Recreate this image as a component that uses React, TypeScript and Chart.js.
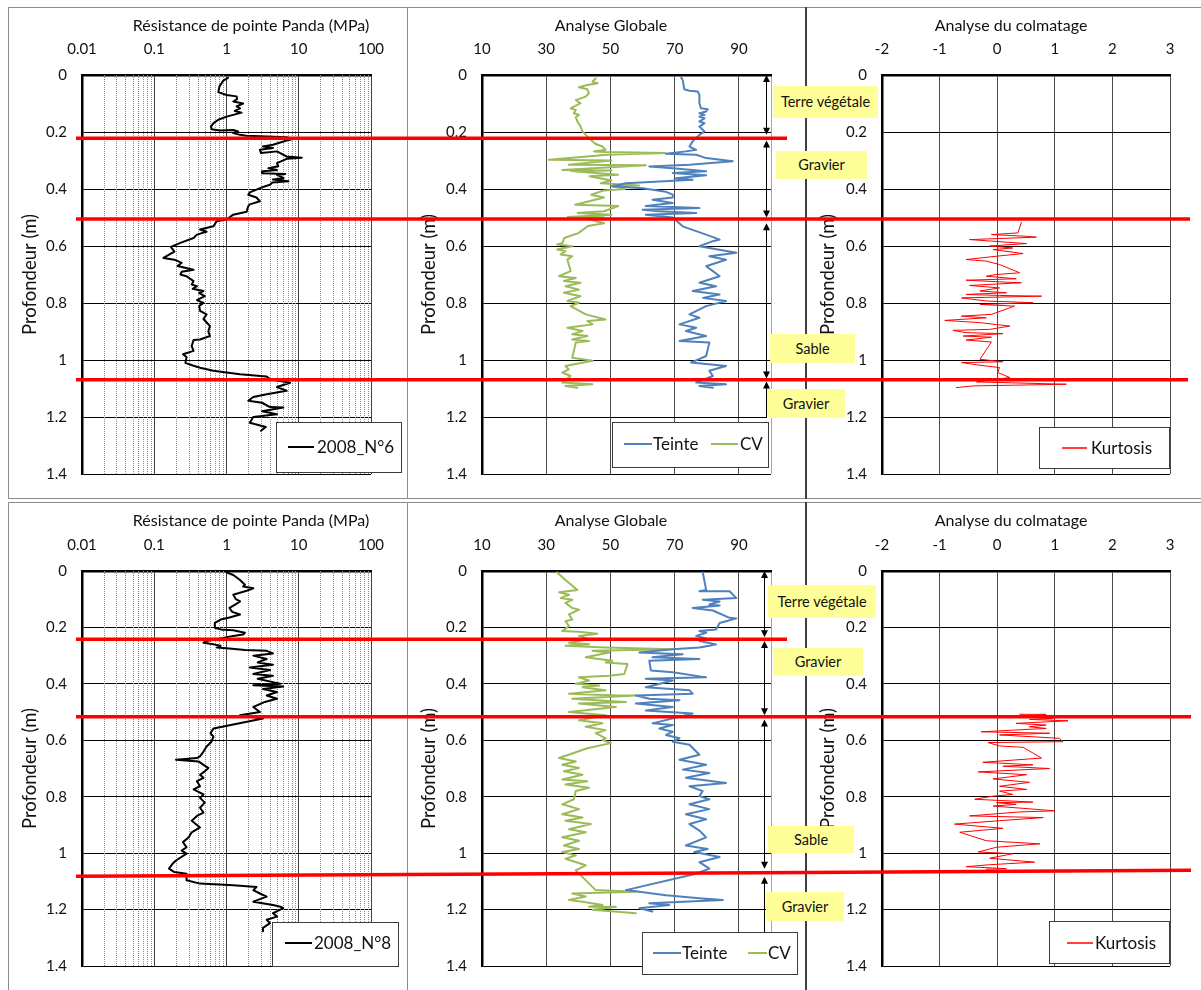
import React, { useEffect, useRef } from 'react';
import { Chart, registerables } from 'chart.js';

Chart.register(...registerables);

const FONT = 'Lato, "Open Sans", "DejaVu Sans", sans-serif';
const TEXT = '#111111';

// ---------------- axis ticks ----------------
const DEPTH_TICKS = [0, 0.2, 0.4, 0.6, 0.8, 1, 1.2, 1.4];
const DEPTH_LABELS = ['0', '0.2', '0.4', '0.6', '0.8', '1', '1.2', '1.4'];
const PANDA_TICKS = [0.01, 0.1, 1, 10, 100];
const PANDA_LABELS = ['0.01', '0.1', '1', '10', '100'];
const GLOBAL_TICKS = [10, 30, 50, 70, 90, 100];
const GLOBAL_LABELS = ['10', '30', '50', '70', '90', ''];
const KURT_TICKS = [-2, -1, 0, 1, 2, 3];
const KURT_LABELS = ['-2', '-1', '0', '1', '2', '3'];

const PANEL_TITLES = ['Résistance de pointe Panda (MPa)', 'Analyse Globale', 'Analyse du colmatage'];
const LAYER_NAMES = ['Terre végétale', 'Gravier', 'Sable', 'Gravier'];

// ---------------- row 1 : 2008_N°6 ----------------
const N6_DEPTH = [0.01, 0.02, 0.04, 0.06, 0.07, 0.075, 0.085, 0.093, 0.1, 0.11,
  0.117, 0.126, 0.132, 0.14, 0.146, 0.157, 0.169, 0.181, 0.19, 0.195,
  0.193, 0.198, 0.204, 0.21, 0.213, 0.216, 0.218, 0.225, 0.23, 0.245,
  0.251, 0.256, 0.262, 0.274, 0.268, 0.277, 0.286, 0.29, 0.294, 0.309,
  0.32, 0.327, 0.333, 0.338, 0.345, 0.347, 0.35, 0.362, 0.367, 0.373,
  0.377, 0.385, 0.393, 0.402, 0.412, 0.42, 0.43, 0.443, 0.454, 0.46,
  0.48, 0.49, 0.507, 0.513, 0.531, 0.542, 0.55, 0.553, 0.56, 0.572,
  0.589, 0.603, 0.62, 0.642, 0.648, 0.659, 0.67, 0.683, 0.69, 0.7,
  0.706, 0.723, 0.735, 0.741, 0.75, 0.758, 0.765, 0.776, 0.79, 0.8,
  0.81, 0.828, 0.84, 0.856, 0.881, 0.9, 0.916, 0.928, 0.93, 0.951,
  0.968, 0.98, 0.99, 1.01, 1.02, 1.027, 1.038, 1.044, 1.05, 1.058,
  1.068, 1.08, 1.095, 1.108, 1.12, 1.13, 1.143, 1.15, 1.165, 1.167,
  1.18, 1.19, 1.2, 1.22, 1.235, 1.248];
const N6_MPA = [1.05, 0.9, 0.8, 0.77, 1.0, 1.38, 1.4, 1.24, 1.7, 1.38,
  1.54, 1.3, 1.62, 1.24, 1.0, 0.77, 0.66, 0.61, 0.62, 0.81,
  1.24, 1.45, 1.24, 1.54, 1.9, 3.6, 6.8, 8.4, 6.8, 4.4,
  3.2, 4.4, 2.9, 3.0, 5.0, 5.8, 6.8, 11, 6.8, 5.0,
  5.2, 3.8, 5.0, 3.2, 3.1, 6.5, 5.0, 6.2, 4.4, 7.2,
  4.3, 4.0, 3.2, 2.6, 2.1, 2.0, 2.6, 2.9, 2.1, 2.0,
  1.9, 1.24, 1.0, 0.73, 0.66, 0.43, 0.53, 0.48, 0.39, 0.35,
  0.23, 0.17, 0.19, 0.134, 0.19, 0.24, 0.21, 0.35, 0.24, 0.23,
  0.28, 0.35, 0.33, 0.39, 0.34, 0.48, 0.42, 0.5, 0.39, 0.48,
  0.42, 0.43, 0.53, 0.48, 0.59, 0.56, 0.59, 0.43, 0.35, 0.33,
  0.35, 0.25, 0.28, 0.27, 0.35, 0.43, 0.66, 1.0, 1.54, 3.6,
  4.0, 7.6, 5.0, 6.8, 3.6, 2.35, 2.0, 3.1, 4.0, 6.1,
  3.1, 5.0, 2.35, 2.1, 3.5, 3.0];

const R1_CV_DEPTH = [0.012, 0.023, 0.029, 0.035, 0.043, 0.05, 0.064, 0.076, 0.088, 0.099,
  0.117, 0.123, 0.134, 0.14, 0.148, 0.163, 0.181, 0.198, 0.21, 0.228,
  0.242, 0.251, 0.262, 0.268, 0.27, 0.274, 0.28, 0.2975, 0.3, 0.315,
  0.317, 0.333, 0.335, 0.337, 0.35, 0.355, 0.37, 0.38, 0.388, 0.39,
  0.4, 0.405, 0.42, 0.43, 0.455, 0.46, 0.478, 0.484, 0.49, 0.498,
  0.5, 0.508, 0.52, 0.53, 0.555, 0.572, 0.59, 0.595, 0.601, 0.6125,
  0.618, 0.63, 0.636, 0.648, 0.688, 0.706, 0.712, 0.723, 0.729, 0.741,
  0.753, 0.764, 0.776, 0.793, 0.799, 0.811, 0.84, 0.858, 0.863, 0.875,
  0.887, 0.898, 0.91, 0.916, 0.928, 0.933, 0.939, 0.992, 1.003, 1.021,
  1.033, 1.044, 1.056, 1.079, 1.085, 1.091, 1.097];
const R1_CV = [45.4, 44.4, 46, 42.8, 40.2, 42.8, 43.3, 42.3, 39.2, 40.7,
  37.6, 39.2, 38.6, 40.2, 39.2, 39.7, 40.7, 41.3, 42.3, 43.9,
  45.4, 47.5, 48.5, 44.9, 48.5, 67, 49, 30.8, 50.3, 37,
  61, 35, 50.3, 37.6, 52.4, 43.5, 50.3, 47, 58.9, 50.3,
  54.4, 48, 44, 48, 39, 52.4, 48, 39.8, 50.3, 36.7,
  48, 44, 48, 43, 40, 35.6, 35, 33.4, 38.1, 33.4,
  36, 34.5, 38.1, 36.6, 37.6, 34, 39.2, 35.5, 40.7, 36,
  40.2, 35.5, 40.7, 36.6, 40.2, 37.6, 42.3, 48.5, 42.8, 44.4,
  36.6, 41.3, 38.1, 42.8, 38.1, 43.3, 39.2, 38.1, 44.4, 36,
  37, 35, 37.6, 35, 44.4, 36, 39.7];

const R1_TEINTE_DEPTH = [0.008, 0.018, 0.05, 0.055, 0.058, 0.07, 0.099, 0.117, 0.12, 0.128,
  0.134, 0.14, 0.146, 0.152, 0.163, 0.169, 0.181, 0.198, 0.21, 0.233,
  0.251, 0.2625, 0.268, 0.2765, 0.28, 0.2915, 0.303, 0.315, 0.321, 0.327,
  0.338, 0.344, 0.352, 0.362, 0.3675, 0.38, 0.39, 0.397, 0.41, 0.42,
  0.43, 0.4375, 0.449, 0.46, 0.467, 0.4725, 0.478, 0.484, 0.49, 0.5,
  0.531, 0.548, 0.56, 0.5775, 0.583, 0.601, 0.624, 0.636, 0.648, 0.671,
  0.688, 0.706, 0.729, 0.741, 0.758, 0.77, 0.782, 0.793, 0.811, 0.84,
  0.852, 0.875, 0.887, 0.898, 0.916, 0.933, 0.939, 0.986, 1.009, 1.021,
  1.038, 1.056, 1.079, 1.085, 1.091, 1.097];
const R1_TEINTE = [72, 72.5, 73, 74.6, 77.2, 77.7, 77.7, 78.2, 80.3, 79.8,
  77.7, 79.3, 77.7, 79.3, 77.7, 79.3, 77.7, 79.3, 77.7, 75.6,
  74.6, 76.7, 73.5, 67.3, 76.7, 79.8, 88.1, 74.6, 62.1, 69.4,
  79.8, 69.4, 79.8, 70.4, 75.6, 54.8, 50.6, 60, 67.3, 69.4,
  69.4, 63.1, 69.4, 61, 77.7, 60, 65, 76.7, 61, 69.4,
  72.5, 76.7, 79.8, 84, 81.9, 77.7, 89.2, 80.8, 86, 79.8,
  81.9, 84, 77.7, 82.9, 75.6, 84, 78.8, 86, 79.8, 74.6,
  77.7, 71.5, 76.7, 73.5, 79.8, 71.5, 80.8, 79.8, 75.1, 86,
  80.8, 81.9, 76.7, 86, 77.7, 81.9];

const R1_KURT_DEPTH = [0.517, 0.554, 0.56, 0.566, 0.569, 0.5775, 0.5915, 0.6, 0.607, 0.6125,
  0.6265, 0.636, 0.6475, 0.653, 0.665, 0.694, 0.7, 0.706, 0.715, 0.72,
  0.727, 0.729, 0.7385, 0.747, 0.758, 0.764, 0.77, 0.7735, 0.776, 0.782,
  0.793, 0.799, 0.805, 0.811, 0.84, 0.846, 0.852, 0.861, 0.869, 0.881,
  0.8925, 0.896, 0.904, 0.9075, 0.916, 0.92, 0.93, 0.937, 0.9975, 1.006,
  1.009, 1.0185, 1.0265, 1.044, 1.0615, 1.077, 1.085, 1.091, 1.097];
const R1_KURT = [0.42, 0.36, -0.1, 0.51, 0.68, -0.48, 0.51, -0.13, 0.27, -0.07,
  0.45, -0.02, -0.54, -0.19, 0.04, 0.39, -0.02, -0.19, 0.33, -0.54,
  0.16, 0.42, -0.48, 0.04, -0.3, 0.16, -0.54, 0.04, 0.77, -0.62,
  -0.19, 0.62, -0.3, 0.3, -0.1, -0.62, -0.19, -0.91, -0.3, 0.22,
  -0.13, -0.77, -0.54, 0.1, -0.59, -0.1, -0.54, -0.1, -0.3, 0.1,
  -0.62, -0.3, 0.04, 0.01, 0.22, -0.36, 1.2, -0.42, -0.71];

// ---------------- row 2 : 2008_N°8 ----------------
const N8_DEPTH = [0.005, 0.014, 0.032, 0.049, 0.055, 0.061, 0.07, 0.084, 0.1, 0.108,
  0.12, 0.131, 0.145, 0.154, 0.165, 0.172, 0.184, 0.201, 0.207, 0.21,
  0.219, 0.225, 0.23, 0.239, 0.244, 0.248, 0.254, 0.26, 0.265, 0.271,
  0.274, 0.28, 0.283, 0.292, 0.3, 0.312, 0.324, 0.332, 0.342, 0.351,
  0.365, 0.371, 0.382, 0.4, 0.405, 0.409, 0.418, 0.429, 0.441, 0.453,
  0.464, 0.482, 0.5, 0.511, 0.523, 0.558, 0.575, 0.587, 0.605, 0.622,
  0.64, 0.657, 0.663, 0.669, 0.675, 0.687, 0.698, 0.71, 0.722, 0.733,
  0.745, 0.763, 0.774, 0.792, 0.804, 0.821, 0.839, 0.856, 0.868, 0.885,
  0.909, 0.926, 0.944, 0.961, 0.979, 0.991, 1.002, 1.026, 1.037, 1.055,
  1.067, 1.073, 1.096, 1.108, 1.114, 1.12, 1.131, 1.143, 1.154, 1.172,
  1.184, 1.19, 1.195, 1.213, 1.225, 1.236, 1.248, 1.265, 1.277];
const N8_MPA = [1.0, 1.24, 1.54, 1.8, 1.7, 2.35, 1.9, 1.24, 1.35, 1.54,
  1.3, 1.1, 1.2, 1.54, 1.1, 0.83, 0.69, 0.69, 0.83, 1.24,
  1.8, 1.7, 1.24, 0.83, 0.66, 0.53, 0.48, 0.66, 0.83, 0.74,
  1.0, 1.8, 3.6, 4.4, 2.35, 3.6, 2.7, 4.4, 2.1, 4.0,
  2.35, 4.4, 2.7, 5.6, 2.35, 6.1, 3.2, 5.0, 3.6, 5.0,
  3.4, 2.35, 2.9, 1.54, 3.2, 0.66, 0.6, 0.66, 0.62, 0.53,
  0.48, 0.43, 0.39, 0.2, 0.41, 0.48, 0.56, 0.5, 0.43, 0.48,
  0.39, 0.43, 0.35, 0.48, 0.43, 0.5, 0.43, 0.48, 0.39, 0.33,
  0.43, 0.33, 0.3, 0.25, 0.28, 0.24, 0.28, 0.2, 0.18, 0.16,
  0.19, 0.28, 0.28, 0.43, 1.24, 2.6, 2.35, 2.9, 3.6, 2.35,
  4.4, 5.6, 6.1, 4.4, 5.0, 3.6, 4.0, 3.2, 3.2];

const R2_CV_DEPTH = [0.005, 0.032, 0.067, 0.075, 0.084, 0.096, 0.102, 0.113, 0.131, 0.137,
  0.154, 0.172, 0.178, 0.195, 0.213, 0.215, 0.222, 0.23, 0.242, 0.254,
  0.26, 0.265, 0.271, 0.277, 0.283, 0.289, 0.306, 0.318, 0.324, 0.33,
  0.365, 0.371, 0.377, 0.388, 0.4, 0.406, 0.412, 0.423, 0.435, 0.441,
  0.441, 0.453, 0.464, 0.47, 0.482, 0.5, 0.511, 0.529, 0.54, 0.552,
  0.564, 0.575, 0.593, 0.599, 0.61, 0.628, 0.663, 0.675, 0.687, 0.698,
  0.71, 0.722, 0.739, 0.745, 0.757, 0.768, 0.78, 0.809, 0.827, 0.844,
  0.862, 0.874, 0.885, 0.897, 0.915, 0.926, 0.944, 0.956, 0.973, 0.985,
  0.996, 1.008, 1.02, 1.043, 1.061, 1.131, 1.137, 1.143, 1.154, 1.166,
  1.172, 1.184, 1.19, 1.19, 1.201, 1.213];
const R2_CV = [33.4, 36, 39.7, 34, 37.1, 34.5, 38.1, 36, 38.1, 40.2,
  37.1, 38.1, 36, 37.1, 35, 40.2, 45.9, 40.2, 43.3, 37.1,
  43.3, 36, 48.5, 69.4, 44.4, 49.6, 42.3, 50.6, 48.5, 55.3,
  54.3, 49.6, 40.2, 43.3, 39.2, 46.5, 41.3, 48.5, 37.1, 52.7,
  57.9, 38.1, 54.8, 40.2, 51.7, 37.1, 48.5, 40.2, 47.5, 42.3,
  48.5, 45.4, 48.5, 47.5, 50.1, 42.8, 34, 39.2, 35, 40.2,
  35.5, 41.3, 35, 42.8, 36, 43.3, 39.2, 38.6, 35, 40.2,
  35, 41.3, 36, 43.9, 37.1, 42.3, 35, 40.2, 35.5, 40.2,
  35, 39.2, 36, 42.3, 39.2, 45.4, 57.9, 38.1, 42.3, 37.1,
  41.3, 47.5, 43.3, 51.7, 44.4, 57.9];

const R2_TEINTE_DEPTH = [0.005, 0.067, 0.072, 0.072, 0.096, 0.102, 0.108, 0.119, 0.122, 0.131,
  0.14, 0.166, 0.168, 0.178, 0.184, 0.207, 0.213, 0.219, 0.23, 0.239,
  0.248, 0.26, 0.265, 0.271, 0.277, 0.289, 0.295, 0.306, 0.312, 0.318,
  0.353, 0.359, 0.377, 0.382, 0.388, 0.412, 0.423, 0.435, 0.441, 0.453,
  0.458, 0.47, 0.482, 0.494, 0.505, 0.54, 0.546, 0.558, 0.57, 0.581,
  0.593, 0.605, 0.616, 0.651, 0.669, 0.687, 0.704, 0.716, 0.733, 0.751,
  0.763, 0.78, 0.798, 0.809, 0.827, 0.844, 0.862, 0.88, 0.897, 0.92,
  0.944, 0.973, 0.985, 0.996, 1.014, 1.032, 1.055, 1.073, 1.131, 1.149,
  1.16, 1.166, 1.178, 1.184, 1.195, 1.207];
const R2_TEINTE = [78.75, 79.8, 77.7, 87.1, 89.2, 78.75, 84, 80.8, 84, 75.6,
  81.9, 87.1, 89.2, 86, 84, 82.9, 77.7, 79.8, 76.7, 79.8,
  77.7, 82.9, 80.8, 77.7, 69.4, 59, 72.5, 63.1, 77.7, 62.1,
  62.6, 69.4, 79.8, 61, 69.4, 61, 74.6, 75.6, 57.9, 62.1,
  71.5, 57.9, 69.4, 61, 75.6, 63.1, 69.4, 65.2, 69.4, 67.3,
  71.5, 69.4, 74.6, 77.7, 71.5, 79.8, 72.5, 80.8, 73.5, 86,
  74.6, 78.75, 77.7, 80.8, 74.6, 80.8, 73.5, 79.8, 74.6, 77.7,
  79.8, 73.5, 80.3, 76.1, 84, 77.7, 80.8, 76.7, 54.8, 67.3,
  77.7, 85, 62.1, 68.3, 59, 63.1];

const R2_KURT_DEPTH = [0.508, 0.508, 0.517, 0.523, 0.526, 0.531, 0.54, 0.546, 0.552, 0.558,
  0.57, 0.575, 0.581, 0.593, 0.605, 0.608, 0.62, 0.625, 0.663, 0.678,
  0.681, 0.687, 0.692, 0.7, 0.712, 0.722, 0.737, 0.749, 0.763, 0.774,
  0.78, 0.792, 0.798, 0.809, 0.819, 0.821, 0.827, 0.833, 0.85, 0.854,
  0.868, 0.874, 0.885, 0.897, 0.912, 0.926, 0.956, 0.967, 0.979, 0.996,
  1.002, 1.018, 1.032, 1.041, 1.048, 1.055, 1.057];
const R2_KURT = [0.39, 0.85, 0.36, 0.97, 0.56, 1.23, 0.33, 0.85, 0.56, 0.85,
  -0.28, 0.91, 0.04, 1.08, 1.14, -0.16, 0.04, 0.45, 0.77, -0.25,
  0.04, 0.62, 0.1, 0.91, -0.33, 0.51, -0.07, 0.56, 0.04, 0.51,
  0.04, 0.27, -0.07, -0.39, 0.62, -0.01, 0.33, -0.07, 1.0, 0.39,
  -0.48, 0.8, 0.04, -0.74, 0.1, -0.65, -0.19, 0.74, -0.01, -0.33,
  0.27, -0.13, 0.65, -0.13, -0.54, 0.16, -0.19];

// layer boundaries (red lines), depth at left end / right end
const R1_BOUND_START = [0.222, 0.505, 1.069];
const R1_BOUND_END = [0.222, 0.505, 1.069];
const R2_BOUND_START = [0.242, 0.517, 1.082];
const R2_BOUND_END = [0.242, 0.517, 1.061];

// layer thickness arrows (depth from / to)
const R1_ARROW_FROM = [0, 0.23, 0.52, 1.075];
const R1_ARROW_TO = [0.21, 0.5, 1.065, 1.2];
const R2_ARROW_FROM = [0, 0.248, 0.526, 1.084];
const R2_ARROW_TO = [0.235, 0.511, 1.055, 1.3];
const ARROW_HEAD_END = [true, true, true, false];

// ---------------- layout (page px) ----------------
const COLS = [
  { left: 8, width: 399, l: 82, r: 371 },
  { left: 407, width: 399, l: 482, r: 771 },
  { left: 806, width: 395, l: 882, r: 1170 },
];
const ROWS = [
  { top: 7, height: 491, t: 75, b: 475, titleY: 25 },
  { top: 502, height: 488, t: 571, b: 970, titleY: 520 },
];
const TITLE_CX = [251, 611, 1011];
const RED_X = [
  [[76, 787], [76, 1190], [76, 1188]],
  [[76, 787], [76, 1191], [76, 1191]],
];
const LABEL_RECTS = [
  [[773, 86, 105, 32], [776, 151, 91, 28], [770, 334, 85, 29], [767, 389, 78, 29]],
  [[768, 585, 108, 33], [773, 648, 90, 28], [768, 826, 86, 27], [766, 892, 78, 29]],
];
const LEGENDS = [
  [
    { box: [276, 422, 125, 50], ly: 447, items: [{ s0: 288, s1: 314, t: 317 }] },
    { box: [612, 422, 156, 45], ly: 444, items: [{ s0: 624, s1: 652, t: 653 }, { s0: 711, s1: 738, t: 740 }] },
    { box: [1039, 427, 130, 41], ly: 448, items: [{ s0: 1062, s1: 1087, t: 1091 }] },
  ],
  [
    { box: [272, 922, 126, 44], ly: 943, items: [{ s0: 285, s1: 312, t: 314 }] },
    { box: [642, 932, 155, 42], ly: 953, items: [{ s0: 653, s1: 681, t: 682 }, { s0: 748, s1: 767, t: 768 }] },
    { box: [1049, 921, 120, 42], ly: 943, items: [{ s0: 1067, s1: 1093, t: 1095 }] },
  ],
];

type Series = { label: string; depth: number[]; values: number[]; color: string; width: number };
type PanelCfg = {
  left: number; top: number; width: number; height: number;
  area: { l: number; t: number; r: number; b: number };
  xType: 'linear' | 'logarithmic'; xMin: number; xMax: number;
  xTicks: number[]; xLabels: string[]; gridColors: string[];
  series: Series[];
  minorLog?: boolean;
  redLines: { x0: number; x1: number; d0: number; d1: number }[];
  arrows?: { x: number; from: number[]; to: number[]; headEnd: boolean[] };
  legend: { box: number[]; ly: number; items: { s0: number; s1: number; t: number }[] };
};

function makeDecor(p: PanelCfg) {
  return {
    id: 'decor',
    beforeDatasetsDraw(chart: any) {
      if (!p.minorLog) return;
      const { ctx, chartArea: a } = chart;
      const xs = chart.scales.x;
      ctx.save();
      ctx.strokeStyle = '#8c8c8c';
      ctx.lineWidth = 1;
      ctx.setLineDash([1, 1]);
      for (const dec of p.xTicks.slice(0, -1)) {
        for (let m = 2; m <= 9; m++) {
          const px = Math.round(xs.getPixelForValue(dec * m)) + 0.5;
          ctx.beginPath();
          ctx.moveTo(px, a.top);
          ctx.lineTo(px, a.bottom);
          ctx.stroke();
        }
      }
      ctx.restore();
    },
    afterDraw(chart: any) {
      const { ctx } = chart;
      const xs = chart.scales.x;
      const ys = chart.scales.y;
      const ox = p.left;
      const oy = p.top;
      ctx.save();
      // arrows
      if (p.arrows) {
        const ar = p.arrows;
        const ax = Math.round(xs.getPixelForValue(ar.x)) + 0.5;
        ctx.strokeStyle = '#000';
        ctx.fillStyle = '#000';
        ctx.lineWidth = 1;
        const head = (x: number, y: number, dir: number) => {
          ctx.beginPath();
          ctx.moveTo(x, y);
          ctx.lineTo(x - 3.5, y + dir * 7);
          ctx.lineTo(x + 3.5, y + dir * 7);
          ctx.closePath();
          ctx.fill();
        };
        ar.from.forEach((d0, i) => {
          const y0 = ys.getPixelForValue(d0);
          const y1 = ys.getPixelForValue(ar.to[i]);
          ctx.beginPath();
          ctx.moveTo(ax, y0 + 2);
          ctx.lineTo(ax, y1 - (ar.headEnd[i] ? 2 : 0));
          ctx.stroke();
          head(ax, y0, 1);
          if (ar.headEnd[i]) head(ax, y1, -1);
        });
      }
      // legend
      const lg = p.legend;
      const [bx, by, bw, bh] = lg.box;
      ctx.fillStyle = '#fff';
      ctx.fillRect(bx - ox, by - oy, bw, bh);
      ctx.strokeStyle = '#3c3c3c';
      ctx.lineWidth = 1;
      ctx.strokeRect(Math.round(bx - ox) + 0.5, Math.round(by - oy) + 0.5, Math.round(bw), Math.round(bh));
      lg.items.forEach((it, i) => {
        const ds = chart.data.datasets[i];
        const ly = lg.ly - oy;
        ctx.strokeStyle = ds.borderColor;
        ctx.lineWidth = Math.max(ds.borderWidth, 1.5);
        ctx.beginPath();
        ctx.moveTo(it.s0 - ox, ly);
        ctx.lineTo(it.s1 - ox, ly);
        ctx.stroke();
        ctx.fillStyle = TEXT;
        ctx.font = `17px ${FONT}`;
        ctx.textAlign = 'left';
        ctx.textBaseline = 'middle';
        ctx.fillText(ds.label, it.t - ox, ly + 1);
      });
      // red boundary lines
      ctx.strokeStyle = '#ff0000';
      ctx.lineWidth = 3.5;
      p.redLines.forEach((l) => {
        ctx.beginPath();
        ctx.moveTo(l.x0 - ox, ys.getPixelForValue(l.d0));
        ctx.lineTo(l.x1 - ox, ys.getPixelForValue(l.d1));
        ctx.stroke();
      });
      ctx.restore();
    },
  };
}

function Panel({ p }: { p: PanelCfg }) {
  const ref = useRef<HTMLCanvasElement>(null);
  useEffect(() => {
    const canvas = ref.current;
    if (!canvas) return;
    const ox = p.left;
    const oy = p.top;
    const yW = p.area.l - ox;
    const xH = p.area.t - oy;
    const padR = p.width - (p.area.r - ox);
    const padB = p.height - (p.area.b - oy);
    const chart = new Chart(canvas, {
      type: 'scatter',
      data: {
        datasets: p.series.map((s) => ({
          label: s.label,
          data: s.depth.slice(0, Math.min(s.depth.length, s.values.length)).map((d, i) => ({ x: s.values[i], y: d })),
          showLine: true,
          borderColor: s.color,
          backgroundColor: s.color,
          borderWidth: s.width,
          pointRadius: 0,
          pointHoverRadius: 0,
          tension: 0,
          fill: false,
          borderJoinStyle: 'round',
          borderCapStyle: 'round',
        })),
      },
      options: {
        animation: false,
        responsive: false,
        maintainAspectRatio: false,
        devicePixelRatio: 1,
        events: [],
        layout: { padding: { left: 0, top: 0, right: padR, bottom: padB } },
        plugins: { legend: { display: false }, tooltip: { enabled: false }, title: { display: false } },
        scales: {
          x: {
            type: p.xType,
            position: 'top',
            min: p.xMin,
            max: p.xMax,
            afterBuildTicks: (axis: any) => {
              axis.ticks = p.xTicks.map((v) => ({ value: v }));
            },
            afterFit: (axis: any) => {
              axis.height = xH;
            },
            ticks: {
              autoSkip: false,
              maxRotation: 0,
              padding: 16.5,
              color: TEXT,
              font: { family: FONT, size: 15 },
              callback: (_v: any, i: number) => p.xLabels[i],
            },
            grid: {
              drawTicks: false,
              lineWidth: 1,
              color: (ctx: any) => p.gridColors[ctx.index] ?? '#404040',
            },
            border: { color: '#000', width: 2.5 },
          },
          y: {
            type: 'linear',
            reverse: true,
            min: 0,
            max: 1.4,
            afterBuildTicks: (axis: any) => {
              axis.ticks = DEPTH_TICKS.map((v) => ({ value: v }));
            },
            afterFit: (axis: any) => {
              axis.width = yW;
            },
            ticks: {
              padding: 15,
              color: TEXT,
              font: { family: FONT, size: 15 },
              callback: (_v: any, i: number) => DEPTH_LABELS[i],
            },
            grid: { drawTicks: false, color: '#000', lineWidth: 1 },
            border: { color: '#000', width: 2.5 },
            title: {
              display: true,
              text: 'Profondeur (m)',
              color: TEXT,
              font: { family: FONT, size: 18.5 },
              padding: { top: 11, bottom: 0 },
            },
          },
        },
      },
      plugins: [makeDecor(p)],
    } as any);
    return () => chart.destroy();
  }, []);
  return (
    <canvas
      ref={ref}
      width={p.width}
      height={p.height}
      style={{ position: 'absolute', left: p.left, top: p.top, width: p.width, height: p.height }}
    />
  );
}

function buildPanels(): PanelCfg[] {
  const out: PanelCfg[] = [];
  const rowSeries: Series[][][] = [
    [
      [{ label: '2008_N°6', depth: N6_DEPTH, values: N6_MPA, color: '#000000', width: 2 }],
      [
        { label: 'Teinte', depth: R1_TEINTE_DEPTH, values: R1_TEINTE, color: '#4f81bd', width: 2 },
        { label: 'CV', depth: R1_CV_DEPTH, values: R1_CV, color: '#9bbb59', width: 2 },
      ],
      [{ label: 'Kurtosis', depth: R1_KURT_DEPTH, values: R1_KURT, color: '#ff0000', width: 1 }],
    ],
    [
      [{ label: '2008_N°8', depth: N8_DEPTH, values: N8_MPA, color: '#000000', width: 2 }],
      [
        { label: 'Teinte', depth: R2_TEINTE_DEPTH, values: R2_TEINTE, color: '#4f81bd', width: 2 },
        { label: 'CV', depth: R2_CV_DEPTH, values: R2_CV, color: '#9bbb59', width: 2 },
      ],
      [{ label: 'Kurtosis', depth: R2_KURT_DEPTH, values: R2_KURT, color: '#ff0000', width: 1 }],
    ],
  ];
  const bStart = [R1_BOUND_START, R2_BOUND_START];
  const bEnd = [R1_BOUND_END, R2_BOUND_END];
  const arrowFrom = [R1_ARROW_FROM, R2_ARROW_FROM];
  const arrowTo = [R1_ARROW_TO, R2_ARROW_TO];
  const arrowX = [98.3, 97.8];
  ROWS.forEach((row, ri) => {
    COLS.forEach((col, ci) => {
      const axis =
        ci === 0
          ? { xType: 'logarithmic' as const, xMin: 0.01, xMax: 100, xTicks: PANDA_TICKS, xLabels: PANDA_LABELS, gridColors: PANDA_TICKS.map(() => '#404040') }
          : ci === 1
          ? { xType: 'linear' as const, xMin: 10, xMax: 100, xTicks: GLOBAL_TICKS, xLabels: GLOBAL_LABELS, gridColors: GLOBAL_TICKS.map((v) => (v === 100 ? '#a6a6a6' : '#4a4a4a')) }
          : { xType: 'linear' as const, xMin: -2, xMax: 3, xTicks: KURT_TICKS, xLabels: KURT_LABELS, gridColors: KURT_TICKS.map(() => '#4a4a4a') };
      out.push({
        left: col.left,
        top: row.top,
        width: col.width,
        height: row.height,
        area: { l: col.l, t: row.t, r: col.r, b: row.b },
        ...axis,
        series: rowSeries[ri][ci],
        minorLog: ci === 0,
        redLines: bStart[ri].map((d0, k) => ({ x0: RED_X[ri][k][0], x1: RED_X[ri][k][1], d0, d1: bEnd[ri][k] })),
        arrows: ci === 1 ? { x: arrowX[ri], from: arrowFrom[ri], to: arrowTo[ri], headEnd: ARROW_HEAD_END } : undefined,
        legend: LEGENDS[ri][ci] as any,
      });
    });
  });
  return out;
}

export default function App() {
  const panels = buildPanels();
  const line = (l: number, t: number, w: number, h: number, c: string, key: string) => (
    <div key={key} style={{ position: 'absolute', left: l, top: t, width: w, height: h, background: c }} />
  );
  return (
    <div style={{ position: 'absolute', left: 0, top: 0, width: 1201, height: 990, overflow: 'hidden', background: '#fff', fontFamily: FONT }}>
      {/* panel frames */}
      {line(8, 7, 1193, 1, '#8c8c8c', 'f1')}
      {line(8, 498, 1193, 1, '#8c8c8c', 'f2')}
      {line(8, 502, 1193, 1, '#8c8c8c', 'f3')}
      {line(8, 7, 1, 492, '#8c8c8c', 'f4')}
      {line(8, 502, 1, 488, '#8c8c8c', 'f5')}
      {line(407, 7, 1, 492, '#8c8c8c', 'f6')}
      {line(407, 502, 1, 488, '#8c8c8c', 'f7')}
      {line(805, 7, 2, 492, '#404040', 'f8')}
      {line(805, 502, 2, 488, '#404040', 'f9')}
      {panels.map((p, i) => (
        <Panel key={i} p={p} />
      ))}
      {ROWS.map((row, ri) =>
        PANEL_TITLES.map((t, ci) => (
          <div
            key={`t${ri}${ci}`}
            style={{ position: 'absolute', left: TITLE_CX[ci] - 160, top: row.titleY - 10, width: 320, height: 20, lineHeight: '20px', textAlign: 'center', fontSize: 16, color: TEXT, whiteSpace: 'nowrap' }}
          >
            {t}
          </div>
        ))
      )}
      {LABEL_RECTS.map((rects, ri) =>
        rects.map((r, k) => (
          <div
            key={`l${ri}${k}`}
            style={{ position: 'absolute', left: r[0], top: r[1], width: r[2], height: r[3], lineHeight: `${r[3]}px`, background: '#ffff99', textAlign: 'center', fontSize: 14.5, color: TEXT, whiteSpace: 'nowrap' }}
          >
            {LAYER_NAMES[k]}
          </div>
        ))
      )}
    </div>
  );
}
